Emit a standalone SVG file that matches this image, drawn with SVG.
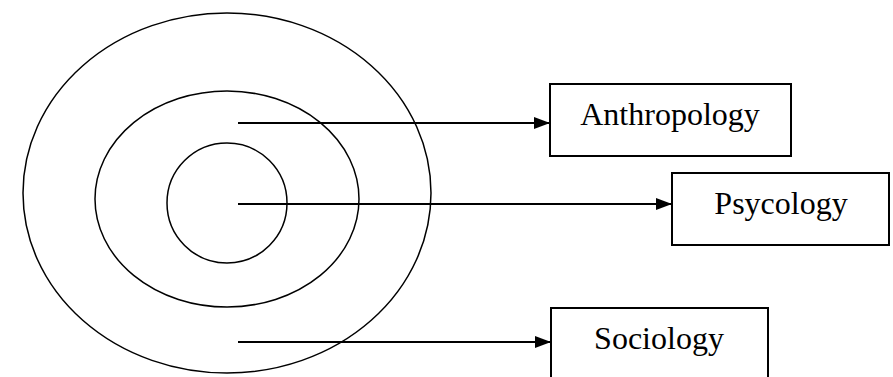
<svg xmlns="http://www.w3.org/2000/svg" width="893" height="377" viewBox="0 0 893 377">
<style>
.ring{fill:none;stroke:#000;stroke-width:1.5}
.box{fill:#fff;stroke:#000;stroke-width:2}
.lbl{font-family:"Liberation Serif","Times New Roman",serif;font-size:32px;fill:#000;text-anchor:middle}
.conn{stroke:#000;stroke-width:2;fill:none}
</style>
<defs>
<marker id="arr" markerWidth="16" markerHeight="12" refX="16" refY="6" orient="auto" markerUnits="userSpaceOnUse">
<path d="M0,0 L16,6 L0,12 Z" fill="#000"/>
</marker>
</defs>
<g id="rings">
<ellipse class="ring" cx="227" cy="193" rx="204" ry="180"/>
<ellipse class="ring" cx="227" cy="199" rx="132" ry="108"/>
<ellipse class="ring" cx="227" cy="203" rx="60" ry="60"/>
</g>
<g id="connectors">
<line class="conn" x1="238" y1="123" x2="550" y2="123" marker-end="url(#arr)"/>
<line class="conn" x1="238" y1="204" x2="672" y2="204" marker-end="url(#arr)"/>
<line class="conn" x1="238" y1="342" x2="551" y2="342" marker-end="url(#arr)"/>
</g>
<g id="anthropology">
<rect class="box" x="550" y="84" width="241" height="72"/>
<text class="lbl" x="670" y="125">Anthropology</text>
</g>
<g id="psycology">
<rect class="box" x="672" y="173" width="217" height="72"/>
<text class="lbl" x="781" y="214">Psycology</text>
</g>
<g id="sociology">
<rect class="box" x="551" y="308" width="217" height="80"/>
<text class="lbl" x="659" y="349">Sociology</text>
</g>
</svg>
